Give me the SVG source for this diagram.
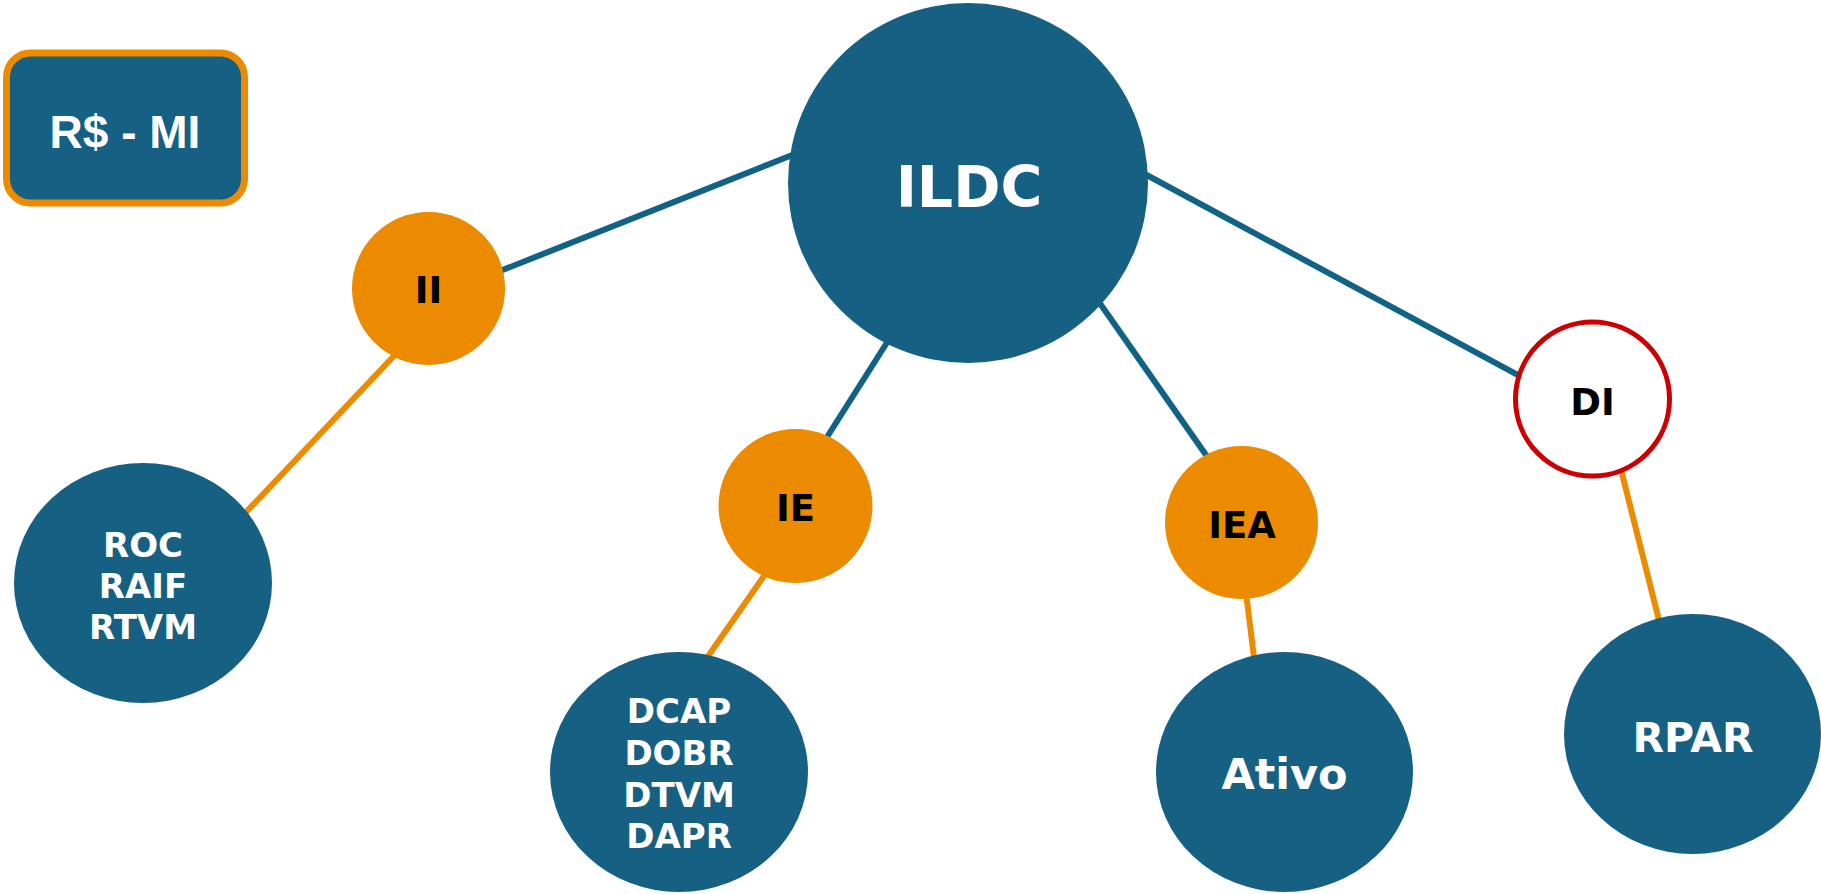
<svg xmlns="http://www.w3.org/2000/svg" width="1821" height="894" viewBox="0 0 1821 894">
  <style>
    .blue { fill: #166083; }
    .orange { fill: #ED8B00; }
    .link-blue { stroke: #116287; stroke-width: 6; fill: none; }
    .link-orange { stroke: #ED8B00; stroke-width: 6; fill: none; }
    .lbl { font-family: "DejaVu Sans", "Liberation Sans", sans-serif; font-weight: bold; text-anchor: middle; }
    .w { fill: #FFFFFF; }
    .k { fill: #000000; }
  </style>
  <rect width="1821" height="894" fill="#FFFFFF"/>

  <!-- connectors, drawn under the nodes -->
  <g id="connectors">
    <line class="link-blue" x1="480" y1="279" x2="810" y2="148"/>
    <line class="link-blue" x1="1130" y1="166" x2="1540" y2="387"/>
    <line class="link-blue" x1="900" y1="322" x2="815" y2="456"/>
    <line class="link-blue" x1="1085" y1="282" x2="1220" y2="475"/>
    <line class="link-orange" x1="410" y1="339" x2="232" y2="527"/>
    <line class="link-orange" x1="780" y1="553" x2="695" y2="675"/>
    <line class="link-orange" x1="1242" y1="560" x2="1258" y2="690"/>
    <line class="link-orange" x1="1611" y1="430" x2="1669" y2="660"/>
  </g>

  <g id="legend">
    <rect class="blue" x="6.5" y="53" width="238" height="150" rx="24" stroke="#ED8B00" stroke-width="7"/>
    <text x="125" y="148" font-family="'Liberation Sans', Arial, sans-serif" font-weight="bold" font-size="46" text-anchor="middle" fill="#FFFFFF">R$ - MI</text>
  </g>

  <g id="ILDC">
    <circle class="blue" cx="968" cy="183" r="180"/>
    <text class="lbl w" x="969" y="207" font-size="57">ILDC</text>
  </g>

  <g id="II">
    <circle class="orange" cx="428.5" cy="288.5" r="76.5"/>
    <text class="lbl k" x="428.5" y="303" font-size="37">II</text>
  </g>

  <g id="IE">
    <circle class="orange" cx="795.5" cy="506" r="77"/>
    <text class="lbl k" x="795.5" y="521" font-size="37">IE</text>
  </g>

  <g id="IEA">
    <circle class="orange" cx="1241.5" cy="522.5" r="76.5"/>
    <text class="lbl k" x="1242" y="538" font-size="37">IEA</text>
  </g>

  <g id="DI">
    <circle cx="1592.5" cy="399" r="77" fill="#FFFFFF" stroke="#CC0000" stroke-width="5"/>
    <text class="lbl k" x="1592.5" y="415" font-size="37">DI</text>
  </g>

  <g id="ROC">
    <ellipse class="blue" cx="143" cy="583" rx="129" ry="120"/>
    <text class="lbl w" x="143" y="557" font-size="34">ROC</text>
    <text class="lbl w" x="143" y="598" font-size="34">RAIF</text>
    <text class="lbl w" x="143" y="639" font-size="34">RTVM</text>
  </g>

  <g id="DCAP">
    <ellipse class="blue" cx="679" cy="772" rx="129" ry="120"/>
    <text class="lbl w" x="679" y="723" font-size="34">DCAP</text>
    <text class="lbl w" x="679" y="765" font-size="34">DOBR</text>
    <text class="lbl w" x="679" y="807" font-size="34">DTVM</text>
    <text class="lbl w" x="679" y="848" font-size="34">DAPR</text>
  </g>

  <g id="Ativo">
    <ellipse class="blue" cx="1284.5" cy="772" rx="128.5" ry="120"/>
    <text class="lbl w" x="1284.5" y="789" font-size="43">Ativo</text>
  </g>

  <g id="RPAR">
    <ellipse class="blue" cx="1692.5" cy="734" rx="128.5" ry="120"/>
    <text class="lbl w" x="1693" y="752" font-size="41">RPAR</text>
  </g>
</svg>
